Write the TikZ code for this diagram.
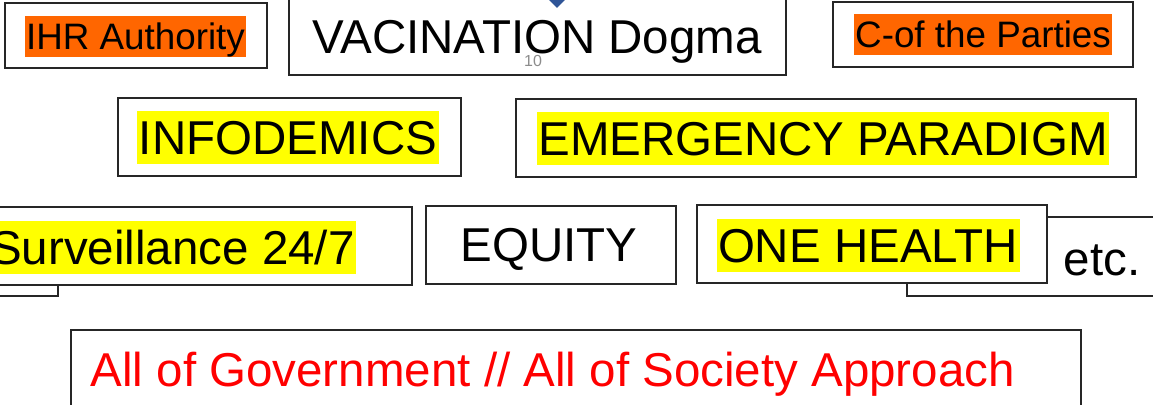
\documentclass[tikz,border=0pt]{standalone}
\usepackage{fontspec}
\setmainfont{Liberation Sans}
\usetikzlibrary{positioning,shapes.geometric}
\definecolor{orangeHL}{HTML}{FF6600}
\definecolor{yellowHL}{HTML}{FFFF00}
\definecolor{redtxt}{HTML}{FF0000}
\definecolor{pagenum}{HTML}{8C8C8C}
\definecolor{slideblue}{HTML}{2F5597}

\begin{document}
\begin{tikzpicture}[x=1pt,y=-1pt,
  box/.style={draw=black!85,line width=1.6pt,fill=white,inner sep=0pt},
  big/.style={font=\fontsize{47.5}{52}\selectfont,inner xsep=1.5pt,inner ysep=0pt,text height=43pt,text depth=10pt},
  small/.style={font=\fontsize{36.8}{40}\selectfont,inner xsep=1.5pt,inner ysep=0pt,text height=34pt,text depth=7pt},
  hiorange/.style={small,fill=orangeHL},
  hiyellow/.style={big,fill=yellowHL}]
\clip (0,0) rectangle (1153,404);

% top row
\node[box,minimum width=262,minimum height=65] (ihr) at (136,35.5) {};
\node[hiorange] (ihrtxt) at (135.5,36.5) {IHR Authority};
\node[box,minimum width=497,minimum height=85] (vac) at (537.5,32.5) {};
\node[big] (vactxt) at (537,37) {VACINATION Dogma};
\node[box,minimum width=300,minimum height=65] (cop) at (983,34.5) {};
\node[hiorange] (coptxt) at (cop.center) {C-of the Parties};
\node[diamond,fill=slideblue,inner sep=0pt,minimum size=24] (mark10) at (557,-4) {};
\node[font=\fontsize{16}{18}\selectfont,text=pagenum,inner sep=0pt] (pg) at (533,61) {10};

% second row
\node[box,minimum width=343,minimum height=78] (info) at (289.5,137) {};
\node[hiyellow] (infotxt) at (288,137.5) {INFODEMICS};
\node[box,minimum width=620,minimum height=78] (emer) at (826,138) {};
\node[hiyellow] (emertxt) at (823,138.5) {EMERGENCY PARADIGM};

% third row
\node[box,minimum width=88,minimum height=81] (survback) at (14,255.5) {};
\node[box,minimum width=440,minimum height=78] (surv) at (192,246) {};
\node[hiyellow,left=56.5 of surv.east,yshift=-1.5] (survtxt) {Surveillance 24/7};
\node[box,minimum width=250,minimum height=78] (equ) at (551,245) {};
\node[big] (equtxt) at (549,245) {EQUITY};
\node[box,minimum width=268,minimum height=79] (etc) at (1041,256.5) {};
\node[big,anchor=base west,text height=,text depth=] (etctxt) at (1062,275) {etc.};
\node[box,minimum width=350,minimum height=78] (one) at (872,244) {};
\node[hiyellow] (onetxt) at (868,245.5) {ONE HEALTH};

% bottom row
\node[box,minimum width=1010,minimum height=90] (all) at (576,375) {};
\node[big,text=redtxt,anchor=west] (alltxt) at (89,370) {All of Government // All of Society Approach};
\end{tikzpicture}
\end{document}
